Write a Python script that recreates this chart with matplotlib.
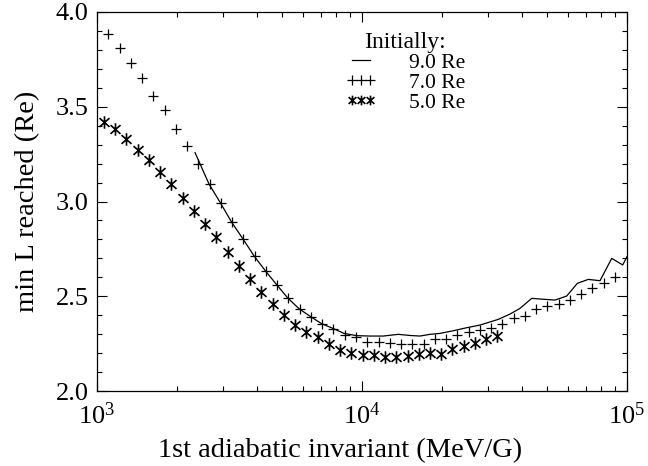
import matplotlib
matplotlib.use("Agg")
import matplotlib.pyplot as plt
from matplotlib.path import Path
from matplotlib.ticker import FixedLocator, NullFormatter

# ---- data ----
x_plus = [1103, 1216, 1341, 1480, 1632, 1799, 1984, 2188, 2413, 2661,
          2935, 3236, 3569, 3936, 4341, 4786, 5278, 5820, 6418, 7078,
          7806, 8608, 9493, 10469, 11545, 12732, 14038, 15480, 17073, 18827,
          20764, 22899, 25253, 27850, 30713, 33873, 37344, 41180, 45415, 50085,
          55235, 60914, 67178, 74087, 81704, 90102]
y_plus = [3.882, 3.808, 3.732, 3.650, 3.558, 3.483, 3.381, 3.294, 3.196, 3.092,
          2.994, 2.890, 2.802, 2.711, 2.632, 2.559, 2.489, 2.433, 2.392, 2.354,
          2.327, 2.296, 2.287, 2.260, 2.260, 2.252, 2.248, 2.248, 2.248, 2.273,
          2.273, 2.296, 2.313, 2.322, 2.334, 2.354, 2.384, 2.397, 2.433, 2.450,
          2.459, 2.480, 2.510, 2.542, 2.571, 2.600]

x_star = [1063, 1172, 1292, 1424, 1571, 1732, 1910, 2106, 2322, 2560,
          2822, 3112, 3431, 3784, 4172, 4600, 5073, 5593, 6166, 6800,
          7498, 8266, 9115, 10049, 11081, 12218, 13471, 14853, 16379, 18058,
          19910, 21953, 24210, 26693, 29431, 32450]
y_star = [3.421, 3.381, 3.331, 3.270, 3.219, 3.157, 3.092, 3.020, 2.951, 2.881,
          2.811, 2.732, 2.661, 2.591, 2.521, 2.461, 2.401, 2.348, 2.310, 2.283,
          2.250, 2.218, 2.199, 2.192, 2.192, 2.182, 2.182, 2.186, 2.197, 2.200,
          2.197, 2.220, 2.237, 2.252, 2.273, 2.292]

x_line = [2344, 2647, 2919, 3224, 3556, 3923, 4331, 4778, 5258, 5801,
          6405, 7065, 7752, 8553, 9550, 10720, 12030, 13710, 15180, 16550,
          18050, 19700, 22110, 24840, 27880, 32690, 36180, 39470, 43700, 48330,
          53500, 59220, 64940, 71450, 79100, 87580, 96340, 100000]
y_line = [3.258, 3.092, 2.994, 2.890, 2.802, 2.711, 2.632, 2.559, 2.489, 2.433,
          2.392, 2.354, 2.331, 2.304, 2.292, 2.290, 2.290, 2.299, 2.293, 2.290,
          2.299, 2.304, 2.318, 2.334, 2.348, 2.378, 2.406, 2.436, 2.489, 2.484,
          2.480, 2.501, 2.568, 2.589, 2.582, 2.700, 2.665, 2.709]

legend_title = "Initially:"
legend_labels = ["9.0 Re", "7.0 Re", "5.0 Re"]
xlabel = "1st adiabatic invariant (MeV/G)"
ylabel = "min L reached (Re)"
x_major = [1e3, 1e4, 1e5]
x_major_labels = [r"$\mathregular{10^{3}}$", r"$\mathregular{10^{4}}$", r"$\mathregular{10^{5}}$"]
y_major = [2.0, 2.5, 3.0, 3.5, 4.0]
y_major_labels = ["2.0", "2.5", "3.0", "3.5", "4.0"]

# ---- style ----
plt.rcParams['font.family'] = ['Liberation Serif', 'DejaVu Serif']
plt.rcParams['mathtext.fontset'] = 'custom'
plt.rcParams['mathtext.rm'] = 'Liberation Serif'

# IDL-like asterisk: vertical bar plus an X
ast = Path([(0, -1), (0, 1), (-0.8, -0.7), (0.8, 0.7), (-0.8, 0.7), (0.8, -0.7)],
           [Path.MOVETO, Path.LINETO, Path.MOVETO, Path.LINETO, Path.MOVETO, Path.LINETO])

fig = plt.figure(figsize=(6.48, 4.66), dpi=100)
ax = fig.add_axes([97/648, 1-391/466, 530/648, 379/466])

l1, = ax.plot(x_line, y_line, color='black', lw=0.9, label=legend_labels[0])
l2, = ax.plot(x_plus, y_plus, ls='none', marker='+', ms=7.5, mew=0.9, color='black',
              label=legend_labels[1])
l3, = ax.plot(x_star, y_star, ls='none', marker=ast, ms=9, mew=1.2, color='black',
              label=legend_labels[2])

ax.set_xscale('log')
ax.set_xlim(1e3, 1e5)
ax.set_ylim(2.0, 4.0)

ax.xaxis.set_major_locator(FixedLocator(x_major))
ax.set_xticklabels(x_major_labels)
ax.xaxis.set_minor_locator(FixedLocator([m * 10**e for e in (3, 4) for m in range(2, 10)]))
ax.xaxis.set_minor_formatter(NullFormatter())
ax.yaxis.set_major_locator(FixedLocator(y_major))
ax.set_yticklabels(y_major_labels)
ax.yaxis.set_minor_locator(FixedLocator([2.0 + 0.1 * k for k in range(21)]))

ax.tick_params(which='both', direction='in', top=True, right=True, width=0.8,
               labelsize=19, color='black')
ax.tick_params(which='major', length=7)
ax.tick_params(which='minor', length=3.5)
ax.tick_params(axis='x', pad=8)
ax.tick_params(axis='y', pad=6)
for s in ax.spines.values():
    s.set_linewidth(0.9)

ax.set_xlabel(xlabel, fontsize=20.5)
ax.xaxis.set_label_coords(0.4585, -0.124)
ax.set_ylabel(ylabel, fontsize=20.5)
ax.yaxis.set_label_coords(-0.108, 0.5)

leg = ax.legend(handles=[l1, l2, l3], title=legend_title, loc='upper left',
                bbox_to_anchor=(0.44, 0.988), frameon=False, fontsize=15.5,
                title_fontsize=17, numpoints=3, handlelength=1.45,
                handletextpad=1.49, labelspacing=0.0, borderpad=0.2)
for h in leg.legend_handles:
    h.set_markersize(7)

fig.savefig("out.png", dpi=100)
